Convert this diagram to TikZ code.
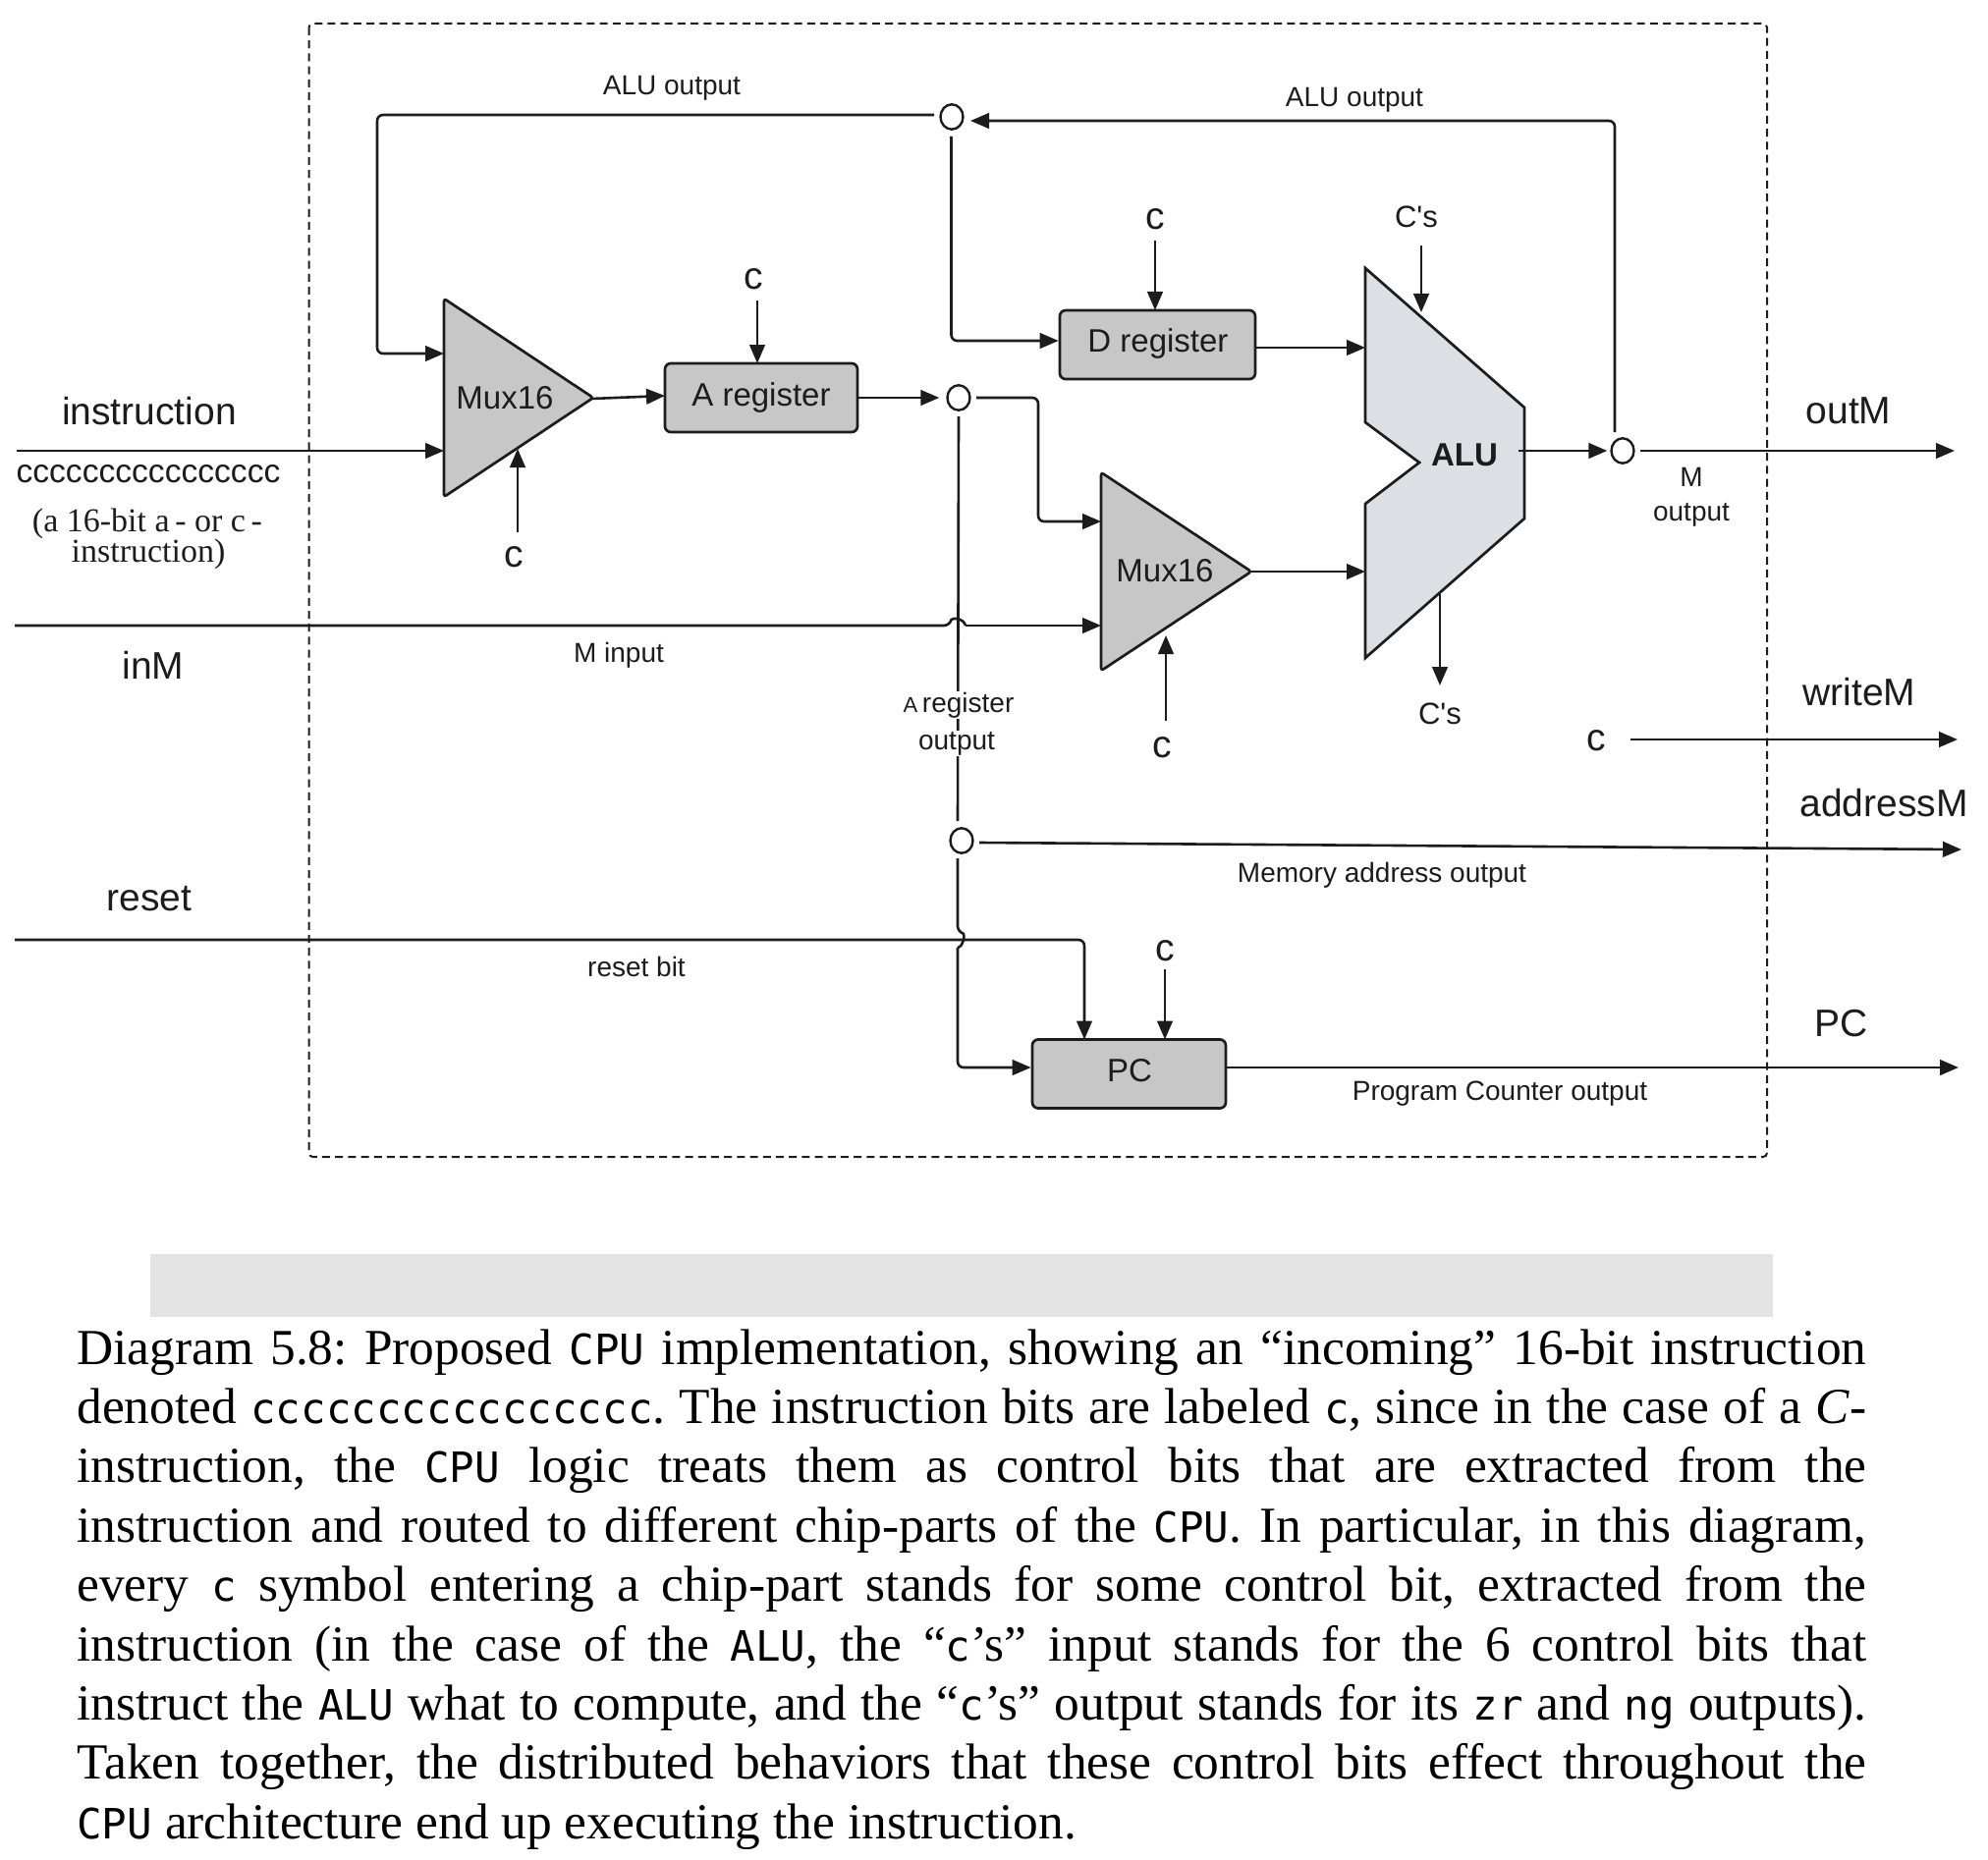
\documentclass[tikz,border=0pt]{standalone}
\usepackage{fontspec}
\setmainfont{Liberation Serif}
\setsansfont{Liberation Sans}
\newfontfamily\cons[Scale=0.827]{DejaVu Sans Mono}
\newfontfamily\arl{Liberation Sans}
\usetikzlibrary{arrows.meta,shapes.geometric}
\definecolor{ink}{HTML}{1C1C1C}
\definecolor{chipfill}{HTML}{C7C7C7}
\definecolor{alufill}{HTML}{DDDFE5}
\definecolor{band}{HTML}{E3E3E3}
\newcommand{\fs}[1]{\fontsize{#1}{#1}\selectfont}
\tikzset{
  x=0.5pt,y=-0.5pt,
  wire/.style={draw=ink,line width=1.3pt,rounded corners=3pt,line cap=butt},
  arw/.style={wire,-{Triangle[length=9.5pt,width=7.8pt]}},
  frame/.style={draw=ink,line width=1pt,dash pattern=on 4pt off 2.6pt,rounded corners=2pt},
  chip/.style={draw=ink,line width=1.35pt,fill=chipfill,rounded corners=1.5pt},
  regbox/.style={draw=ink,line width=1.35pt,fill=chipfill,rounded corners=3pt,inner sep=0pt},
  jct/.style={ellipse,draw=ink,fill=white,line width=1.2pt,minimum width=11.5pt,minimum height=12.7pt,inner sep=0pt},
  big/.style={font=\arl\fs{19.5},text=ink,inner sep=0pt},
  mid/.style={font=\arl\fs{16.5},text=ink,inner sep=0pt},
  small/.style={font=\arl\fs{14},text=ink,inner sep=0pt},
  ctl/.style={font=\arl\fs{19.5},text=ink,inner sep=0pt},
  whitelbl/.style={small,fill=white,inner sep=0.5pt},
}
\begin{document}
\begin{tikzpicture}
\useasboundingbox (0,0) rectangle (2024,1894);
% frame and band
\draw[frame] (314.5,24) rectangle (1799,1178);
\fill[band] (153,1277) rectangle (1805,1341);
% named anchor points
\coordinate (inI) at (17,459);
\coordinate (inM) at (15,637);
\coordinate (inR) at (15,957);
\coordinate (m1a) at (452,360);
\coordinate (m1b) at (452,459);
\coordinate (m1out) at (602,406);
\coordinate (m1c) at (527,457);
\coordinate (m2a) at (1121,531);
\coordinate (m2b) at (1121,637);
\coordinate (m2out) at (1272,582);
\coordinate (m2c) at (1187,647);
\coordinate (alua) at (1390,354);
\coordinate (alub) at (1390,582);
\coordinate (aluo) at (1546,459);
\coordinate (aluc) at (1447,318);
\coordinate (alud) at (1466,605);
\coordinate (aregin) at (677,403);
% Mux 1, Mux 2, ALU shapes
\draw[chip] (452,304) -- (604,405) -- (452,506) -- cycle;
\draw[chip] (1121,481) -- (1274,582) -- (1121,683) -- cycle;
\draw[draw=ink,line width=1.35pt,fill=alufill,line join=miter]
  (1390,273) -- (1552,415) -- (1552,528) -- (1390,670) -- (1390,513) -- (1445,471) -- (1390,430) -- cycle;
\node[mid] (mux1) at (514,405) {Mux16};
\node[mid] (mux2) at (1186,581) {Mux16};
\node[font=\arl\bfseries\fs{16.5},text=ink,inner sep=0pt] (alu) at (1491,463) {ALU};
% boxes
\node[regbox,minimum width=98pt,minimum height=35pt] (areg) at (775,405) {};
\node[mid] (aregl) at (775,405) {A register};
\node[regbox,minimum width=99.5pt,minimum height=35pt] (dreg) at (1178.5,351) {};
\node[mid] (dregl) at (1179,350) {D register};
\node[regbox,minimum width=98.5pt,minimum height=35pt] (pc) at (1149.5,1093.5) {};
\node[mid] (pcl) at (1150,1090) {PC};
% junctions
\node[jct] (jtop) at (969,119) {};
\node[jct] (ja) at (976,405) {};
\node[jct] (jmem) at (979,856) {};
\node[jct] (jm) at (1652,459) {};
% route helpers
\coordinate (r1a) at (951,117);
\coordinate (r1b) at (384,117);
\coordinate (r1c) at (384,360);
\coordinate (r2a) at (988,123);
\coordinate (r2b) at (1644,123);
\coordinate (r2c) at (1644,440);
\coordinate (r3a) at (968.5,139);
\coordinate (r3b) at (968.5,347);
\coordinate (r4a) at (994,405);
\coordinate (r4b) at (1057,405);
\coordinate (r4c) at (1057,531);
\coordinate (v0) at (976,424);
\coordinate (v1) at (975,836);
\coordinate (v2) at (975,874);
\coordinate (v3) at (975,1087);
\coordinate (h3) at (1104,957);
\coordinate (top3) at (1104,1058.5);
\coordinate (topc) at (1186,1058.5);
\coordinate (cpc) at (1186,987);
% right-hand ends
\coordinate (oM) at (1990,459);
\coordinate (wS) at (1660,753);
\coordinate (wE) at (1993,753);
\coordinate (aE) at (1997,865);
\coordinate (mS) at (997,858);
\coordinate (pE) at (1994,1087);
\coordinate (jmr) at (1670,459);
% wires
\draw[arw] (inI) -- (m1b);
\draw[arw] (r1a) -- (r1b) -- (r1c) -- (m1a);
\draw[arw] (r2c) -- (r2b) -- (r2a);
\draw[arw] (r3a) -- (r3b) -- (dreg.west |- r3b);
\draw[arw] (m1out) -- (aregin);
\draw[arw,shorten >=3.5pt] (areg.east) -- (ja.west);
\draw[arw] (r4a) -- (r4b) -- (r4c) -- (m2a);
\draw[wire] (v0) -- (v1);
\draw[wire] (v2) -- (975,949) .. controls (982,951) and (982,963) .. (975,965);
\draw[arw] (975,965) -- (v3) -- (pc.west |- v3);
\draw[wire] (inM) -- (967,637) .. controls (969,629) and (981,629) .. (983,637);
\draw[arw] (983,637) -- (m2b);
\draw[arw] (inR) -- (h3) -- (top3);
\draw[arw] (dreg.east |- alua) -- (alua);
\draw[arw] (m2out) -- (alub);
\draw[arw,shorten >=1.5pt] (aluo) -- (jm.west);
\draw[arw] (jmr) -- (oM);
\draw[arw] (wS) -- (wE);
\draw[arw] (mS) -- (aE);
\draw[arw] (pc.east |- pE) -- (pE);
\draw[arw] (alud) -- (1466,698);
% control c arrows
\node[ctl] (c1) at (523,567) {c};
\node[ctl] (c2) at (767,284) {c};
\node[ctl] (c3) at (1176,223) {c};
\node[ctl] (c4) at (1183,761) {c};
\node[ctl] (c5) at (1186,968) {c};
\node[ctl] (c6) at (1625,754) {c};
\node[small,font=\arl\fs{15.5}] (cs1) at (1442,221) {C's};
\node[small,font=\arl\fs{15.5}] (cs2) at (1466,727) {C's};
\draw[arw] (527,542) -- (m1c);
\draw[arw] (771,306) -- (771,370);
\draw[arw] (1176,245) -- (1176,316);
\draw[arw] (1187,734) -- (m2c);
\draw[arw] (cpc) -- (topc);
\draw[arw] (1447,250) -- (aluc);
% labels
\node[big] (linstr) at (152,419) {instruction};
\node[font=\arl\fs{16.8},text=ink,inner sep=0pt] (lcc) at (151,483) {cccccccccccccccc};
\node[font=\fs{17},text=ink,inner sep=0pt] (la) at (150,533) {(a 16-bit a\,- or c\,-};
\node[font=\fs{17},text=ink,inner sep=0pt] (lb) at (151,564) {instruction)};
\node[big] (linm) at (156,677) {inM};
\node[big] (lres) at (152,915) {reset};
\node[small] (t1) at (684,90) {ALU output};
\node[small] (t2) at (1379,102) {ALU output};
\node[small] (t3) at (630,667) {M input};
\node[small] (t4) at (648,984) {reset bit};
\node[whitelbl] (t5a) at (976,718) {{\fs{11}A}\,register};
\node[whitelbl] (t5b) at (974,757) {output};
\node[small] (t6a) at (1722,486) {M};
\node[small] (t6b) at (1722,524) {output};
\node[small] (t7) at (1407,891) {Memory address output};
\node[small] (t8) at (1527,1114) {Program Counter output};
\node[big] (lout) at (1882,418) {outM};
\node[big] (lw) at (1893,705) {writeM};
\node[big] (laddr) at (1918,818) {addressM};
\node[big] (lpc) at (1875,1042) {PC};
% caption
\node[anchor=north west,inner sep=0pt,text width=911pt,text=black,align=justify,font=\fs{25.7}] (cap) at (78,1353) {%
\tolerance=10000\hyphenpenalty=10000\baselineskip=30.2pt\parindent=0pt\frenchspacing
Diagram 5.8: Proposed {\cons CPU} implementation, showing an “incoming” 16-bit instruction\linebreak
denoted {\cons cccccccccccccccc}. The instruction bits are labeled {\cons c}, since in the case of a \textit{C}-\linebreak
instruction, the {\cons CPU} logic treats them as control bits that are extracted from the\linebreak
instruction and routed to different chip-parts of the {\cons CPU}. In particular, in this diagram,\linebreak
every {\cons c} symbol entering a chip-part stands for some control bit, extracted from the\linebreak
instruction (in the case of the {\cons ALU}, the “{\cons c}’s” input stands for the 6 control bits that\linebreak
instruct the {\cons ALU} what to compute, and the “{\cons c}’s” output stands for its {\cons zr} and {\cons ng} outputs).\linebreak
Taken together, the distributed behaviors that these control bits effect throughout the\linebreak
{\cons CPU} architecture end up executing the instruction.\par};
\end{tikzpicture}
\end{document}
